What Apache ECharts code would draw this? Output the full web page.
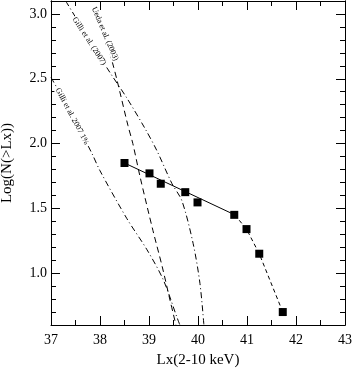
<!DOCTYPE html>
<html>
<head>
<meta charset="utf-8">
<script src="https://cdn.jsdelivr.net/npm/echarts@6/dist/echarts.min.js"></script>
<style>
  html, body { margin: 0; padding: 0; background: #fff; }
  #main { width: 352px; height: 369px; }
</style>
</head>
<body>
<div id="main"></div>
<script>
// observed points (Lx, Log N(>Lx))
const obsX = [38.50, 39.01, 39.24, 39.74, 39.99, 40.74, 40.99, 41.25, 41.73];
const obsY = [1.85, 1.77, 1.69, 1.625, 1.546, 1.45, 1.34, 1.15, 0.70];
// solid fit: from first to sixth point, dashed continues to the end
const fitX = [38.50, 40.75];
const fitY = [1.85, 1.45];
const tailX = [40.75, 40.99, 41.25, 41.73];
const tailY = [1.45, 1.34, 1.15, 0.70];

// model curves
const uedaX = [37.98, 38.245, 38.35, 38.57, 38.67, 38.82, 39.08, 39.27, 39.43, 39.55];
const uedaY = [3.0, 2.638, 2.485, 2.14, 2.0, 1.74, 1.33, 1.05, 0.79, 0.6];
const gilliX = [37.30, 37.8, 38.2, 38.55, 38.92, 39.16, 39.47, 39.67, 39.9, 40.04, 40.12];
const gilliY = [3.1, 2.79, 2.55, 2.35, 2.115, 1.946, 1.69, 1.56, 1.23, 0.92, 0.6];
const gilli2X = [37.0, 37.39, 37.84, 38.0, 38.55, 38.96, 39.29, 39.57, 39.63];
const gilli2Y = [2.51, 2.25, 1.92, 1.79, 1.42, 1.18, 0.95, 0.66, 0.6];

const yMajor = [1.0, 1.5, 2.0, 2.5, 3.0];

// curve labels: text, centre (data), angle in degrees
const labelText = ['Ueda et al. (2003)', 'Gilli et al. (2007)', 'Gilli et al. 2007 1%'];
const labelPos = [[38.10, 2.846], [37.78, 2.79], [37.43, 2.21]];
const labelAngle = [-67, -57, -62];

const pairs = (xs, ys) => xs.map((x, i) => [x, ys[i]]);
const font = 'Liberation Serif, Times New Roman, serif';
const isMajor = v => Math.abs(v * 2 - Math.round(v * 2)) < 1e-6;

const chart = echarts.init(document.getElementById('main'));

const xBase = {
  type: 'value', min: 37, max: 43, interval: 1,
  axisLine: { lineStyle: { color: '#000', width: 1 } },
  axisTick: { show: true, inside: true, length: 9, lineStyle: { color: '#000', width: 1 } },
  minorTick: { show: true, splitNumber: 2, length: 5, lineStyle: { color: '#000', width: 1 } },
  splitLine: { show: false }
};
const yBase = {
  type: 'value', min: 0.6, max: 3.1,
  axisLine: { show: true, lineStyle: { color: '#000', width: 1 } },
  splitLine: { show: false }
};

const option = {
  animation: false,
  grid: { left: 51, right: 7, top: 1, bottom: 44, containLabel: false, outerBoundsMode: 'none' },
  xAxis: [
    Object.assign({}, xBase, {
      position: 'bottom',
      name: 'Lx(2-10 keV)', nameLocation: 'middle', nameGap: 28,
      nameTextStyle: { fontFamily: font, fontSize: 15, color: '#000' },
      axisLabel: { color: '#000', fontFamily: font, fontSize: 14, margin: 8 }
    }),
    Object.assign({}, xBase, { position: 'top', axisLabel: { show: false } })
  ],
  yAxis: [
    // left: every 0.1 gets a short tick, labels only at the half units
    Object.assign({}, yBase, {
      position: 'left', interval: 0.1,
      name: 'Log(N(>Lx))', nameLocation: 'middle', nameGap: 36, nameRotate: 90,
      nameTextStyle: { fontFamily: font, fontSize: 15, color: '#000' },
      axisTick: { show: true, inside: true, length: 5, lineStyle: { color: '#000', width: 1 } },
      axisLabel: { color: '#000', fontFamily: font, fontSize: 14, margin: 4,
        formatter: v => (isMajor(v) ? v.toFixed(1) : '') }
    }),
    Object.assign({}, yBase, {
      position: 'left',
      axisTick: { show: true, inside: true, length: 9, customValues: yMajor, lineStyle: { color: '#000', width: 1 } },
      axisLabel: { show: false }
    }),
    Object.assign({}, yBase, {
      position: 'right', interval: 0.1,
      axisTick: { show: true, inside: true, length: 5, lineStyle: { color: '#000', width: 1 } },
      axisLabel: { show: false }
    }),
    Object.assign({}, yBase, {
      position: 'right',
      axisTick: { show: true, inside: true, length: 9, customValues: yMajor, lineStyle: { color: '#000', width: 1 } },
      axisLabel: { show: false }
    })
  ],
  series: [
    {
      name: 'Ueda', type: 'line', data: pairs(uedaX, uedaY), smooth: 0.3,
      symbol: 'none', lineStyle: { color: '#000', width: 1, type: [6, 4] }
    },
    {
      name: 'Gilli', type: 'line', data: pairs(gilliX, gilliY), smooth: 0.3,
      symbol: 'none', lineStyle: { color: '#000', width: 1, type: [6, 3, 1, 3] }
    },
    {
      name: 'Gilli 1%', type: 'line', data: pairs(gilli2X, gilli2Y), smooth: 0.3,
      symbol: 'none', lineStyle: { color: '#000', width: 1, type: [6, 3, 1, 3] }
    },
    {
      name: 'fit', type: 'line', data: pairs(fitX, fitY),
      symbol: 'none', lineStyle: { color: '#000', width: 1 }
    },
    {
      name: 'tail', type: 'line', data: pairs(tailX, tailY),
      symbol: 'none', lineStyle: { color: '#000', width: 1, type: [4, 3] }
    },
    {
      name: 'obs', type: 'scatter', data: pairs(obsX, obsY),
      symbol: 'rect', symbolSize: 8, itemStyle: { color: '#000', opacity: 1 }, z: 5
    }
  ]
};

chart.setOption(option);

// curve labels placed from data coordinates
chart.setOption({
  graphic: labelText.map((t, i) => {
    const p = chart.convertToPixel({ xAxisIndex: 0, yAxisIndex: 0 }, labelPos[i]);
    return {
      type: 'text', x: p[0], y: p[1], z: 100,
      rotation: labelAngle[i] * Math.PI / 180,
      style: {
        text: t, fontFamily: font, fontSize: 8, fill: '#000',
        align: 'center', verticalAlign: 'middle',
        backgroundColor: '#fff', padding: [0, 1]
      }
    };
  })
});
</script>
</body>
</html>
